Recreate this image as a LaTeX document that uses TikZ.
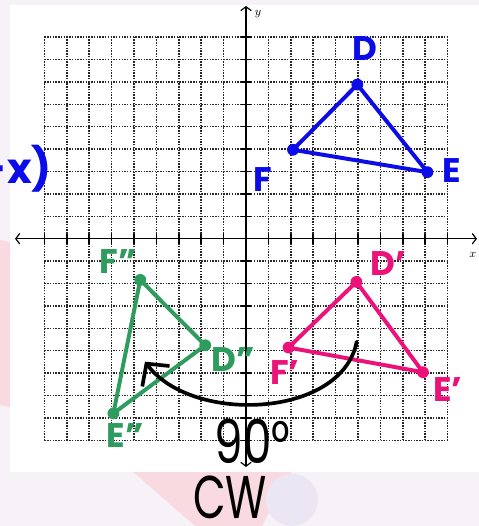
\documentclass[tikz,border=0pt]{standalone}
\usepackage{fontspec}
\newfontfamily\handfont{Poppins}
\usetikzlibrary{arrows.meta, calc}
\definecolor{penblue}{RGB}{12,12,232}
\definecolor{penpink}{RGB}{236,18,122}
\definecolor{pengreen}{RGB}{46,156,92}
\definecolor{bglav}{RGB}{246,242,248}
\definecolor{wmpink}{RGB}{249,218,224}
\definecolor{wmlav}{RGB}{234,230,244}
\tikzset{
  grid line/.style={densely dotted, line width=1.1pt, black!85},
  axis line/.style={
    {Straight Barb[length=3pt,width=8pt]}-{Straight Barb[length=3pt,width=8pt]},
    line width=0.9pt
  },
  axis tick/.style={line width=1.1pt},
  axis label/.style={font=\small, inner sep=1pt},
  tri side/.style={line width=3pt, line cap=round, line join=round},
  tri dot/.style={circle, fill, inner sep=0pt, minimum size=9pt},
  pen label/.style={
    font=\handfont\bfseries\fontsize{26}{26}\selectfont, inner sep=0pt
  },
  turn arrow/.style={
    -{Straight Barb[length=12pt,width=26pt,line width=2.8pt]},
    line width=2.8pt, line cap=round
  },
  turn label/.style={
    font=\handfont\fontsize{46}{46}\selectfont, inner sep=0pt
  }
}

\begin{document}
\begin{tikzpicture}[x=0.6cm, y=0.6cm]
  \useasboundingbox (-10.982,-12.827) rectangle (10.402,10.656);
  % backdrop in pixel units
  \begin{scope}[shift={(-10.982,10.656)}, x=0.026786cm, y=-0.026786cm]
    \fill[bglav] (0,0) rectangle (479,526);
    \fill[wmpink] (0,240) -- (60,255) -- (60,420) -- (0,405) -- cycle;
    \fill[wmpink] (133,472) -- (292,472) -- (262,526) -- (195,526) -- cycle;
    \fill[wmlav] (292,500) circle (26);
    \fill[white] (10,5) rectangle (479,471.7);
  \end{scope}

  % grid and axes
  \foreach \k in {-9,...,9} {
    \draw[grid line] (\k,-9) -- (\k,9);
    \draw[grid line] (-9,\k) -- (9,\k);
  }
  \draw[axis line] (-10.31,0) -- (10.31,0);
  \draw[axis line] (0,-10.19) -- (0,10.39);
  \foreach \k in {-9,...,-1,1,2,...,9} {
    \draw[axis tick] (\k,-0.22) -- (\k,0.22);
    \draw[axis tick] (-0.22,\k) -- (0.22,\k);
  }
  \node[axis label] (xl) at (10.13,-0.73) {$x$};
  \node[axis label] (yl) at (0.54,10.03) {$y$};

  % triangle DEF
  \coordinate (D) at (4.97,6.88);
  \coordinate (E) at (8.1,2.97);
  \coordinate (F) at (2.1,3.97);
  \draw[tri side, penblue] (D) -- (E) -- (F) -- cycle;
  \foreach \v in {D,E,F} \node[tri dot, penblue] at (\v) {};
  \node[pen label, penblue] (Dl) at (5.31,8.51) {D};
  \node[pen label, penblue] (El) at (9.18,3.04) {E};
  \node[pen label, penblue] (Fl) at (0.77,2.62) {F};
  \node[pen label, penblue, anchor=east,
    font=\handfont\bfseries\fontsize{32}{32}\selectfont] (rule) at (-8.66,3.06) {(y,-x)};

  % triangle D'E'F'
  \coordinate (D1) at (4.93,-1.93);
  \coordinate (E1) at (7.9,-5.96);
  \coordinate (F1) at (1.9,-4.86);
  \draw[tri side, penpink] (D1) -- (E1) -- (F1) -- cycle;
  \foreach \v in {D1,E1,F1} \node[tri dot, penpink] at (\v) {};
  \node[pen label, penpink] (D1l) at (6.34,-1.1) {D’};
  \node[pen label, penpink] (F1l) at (1.74,-5.96) {F’};
  \node[pen label, penpink] (E1l) at (9.02,-6.75) {E’};

  % triangle D''E''F''
  \coordinate (D2) at (-1.82,-4.76);
  \coordinate (E2) at (-5.92,-7.8);
  \coordinate (F2) at (-4.72,-1.84);
  \draw[tri side, pengreen] (D2) -- (E2) -- (F2) -- cycle;
  \foreach \v in {D2,E2,F2} \node[tri dot, pengreen] at (\v) {};
  \node[pen label, pengreen] (F2l) at (-5.71,-1.04) {F”};
  \node[pen label, pengreen] (D2l) at (-0.58,-5.41) {D”};
  \node[pen label, pengreen] (E2l) at (-5.4,-8.77) {E”};

  % rotation arrow
  \coordinate (arcs) at (4.94,-4.6);
  \coordinate (arce) at (-4.51,-5.49);
  \draw[turn arrow] (arcs) .. controls (4.3,-8.0) and (-2.4,-8.3) .. (arce);
  \node[turn label] (deg) at (0.3,-9.05) {\scalebox{0.75}[1]{90°}};
  \node[turn label] (cw) at (-0.71,-11.55) {\scalebox{0.7}[1]{CW}};
\end{tikzpicture}
\end{document}
